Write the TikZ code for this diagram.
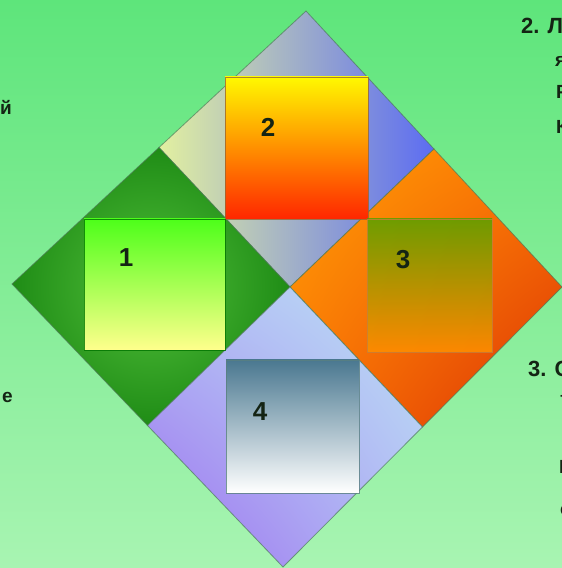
\documentclass[tikz,border=0pt]{standalone}
\usepackage{fontspec}
\setmainfont{Liberation Sans}
\usetikzlibrary{calc,shadings}
\definecolor{Ink}{HTML}{142414}
\definecolor{BgTop}{HTML}{5EE57B}
\definecolor{BgBot}{HTML}{A8F4B2}
\definecolor{Rim}{HTML}{4E7A58}
\definecolor{GreenLite}{HTML}{52C03A}
\definecolor{GreenDark}{HTML}{1F8C16}
\definecolor{PaleLeft}{HTML}{E2F0A0}
\definecolor{GreyMid}{HTML}{AEBCD2}
\definecolor{BlueRight}{HTML}{5C6CF2}
\definecolor{OrangeA}{HTML}{FFA004}
\definecolor{OrangeB}{HTML}{FB7406}
\definecolor{RedC}{HTML}{DA3004}
\definecolor{Violet}{HTML}{9C6CF0}
\definecolor{Lilac}{HTML}{B2BCF4}
\definecolor{SkyPale}{HTML}{BCE0F4}
\definecolor{SteelTop}{HTML}{4A7890}
\definecolor{SteelMid}{HTML}{AAB6BE}
\tikzset{
  rim/.style={draw=Rim,draw opacity=.7,line width=.8pt},
  greenpart/.style={rim,inner color=GreenLite,outer color=GreenDark},
  toppart/.style={rim,left color=PaleLeft,middle color=GreyMid,right color=BlueRight},
  orangepart/.style={rim,upper left=OrangeA,upper right=OrangeB,lower left=OrangeB,lower right=RedC},
  bottompart/.style={rim,upper left=Lilac,upper right=SkyPale,lower left=Violet,lower right=Lilac},
  frame/.style={draw opacity=.8,line width=.9pt},
  sqone/.style={frame,draw=green!45!black,top color=green!70!lime!90!white,middle color=yellow!70!lime!75!white,bottom color=yellow!45!white},
  sqtwo/.style={frame,draw=brown!80!black,top color=yellow!95!orange,middle color=orange!85!yellow,bottom color=red!70!orange},
  sqthree/.style={frame,draw=brown!90!orange,top color=olive!75!green,middle color=orange!70!olive,bottom color=orange!90!yellow},
  sqfour/.style={frame,draw=gray!70!teal,top color=SteelTop,middle color=SteelMid,bottom color=white},
  num/.style={font=\fontsize{26}{28}\selectfont\bfseries,text=Ink,inner sep=0pt},
  head/.style={font=\fontsize{22}{24}\selectfont\bfseries,text=Ink,inner sep=0pt,anchor=west},
  txt/.style={font=\fontsize{19}{21}\selectfont\bfseries,text=Ink,inner sep=0pt,anchor=west},
  txtend/.style={txt,anchor=east}
}
\begin{document}
\begin{tikzpicture}[x=1pt,y=1pt]
  \useasboundingbox (0,0) rectangle (562,568);
  \clip (0,0) rectangle (562,568);
  \shade[top color=BgTop,bottom color=BgBot] (0,0) rectangle (562,568);

  % outer corners and the middle
  \coordinate (T) at (306,557);
  \coordinate (L) at (12,284);
  \coordinate (R) at (562,281);
  \coordinate (B) at (283,1);
  \coordinate (C) at (290,281);
  \coordinate (TL) at ($(T)!.5!(L)$);
  \coordinate (TR) at ($(T)!.5!(R)$);
  \coordinate (LB) at ($(L)!.5!(B)$);
  \coordinate (RB) at ($(R)!.5!(B)$);

  % four small diamonds
  \shade[toppart] (TL)--(T)--(TR)--(C)--cycle;
  \shade[greenpart] (L)--(TL)--(C)--(LB)--cycle;
  \shade[orangepart] (C)--(TR)--(R)--(RB)--cycle;
  \shade[bottompart] (LB)--(C)--(RB)--(B)--cycle;

  % squares
  \shade[sqtwo] (225,349) rectangle (368,491);
  \shade[sqone] (84,218) rectangle (225,349);
  \shade[sqthree,fill opacity=.9] (367,216) rectangle (492,349);
  \shade[sqfour] (226,75) rectangle (359,208);

  \node[num] (n1) at (126,310) {1};
  \node[num] (n2) at (268,441) {2};
  \node[num] (n3) at (403,308) {3};
  \node[num] (n4) at (260,156) {4};

  % cut text at the edges
  \node[txtend] (wl1) at (12,461) {й};
  \node[txtend] (wl2) at (13,171) {е};
  \node[head] (h2) at (521,542) {2. Л};
  \node[txt] (r1) at (555,507) {я};
  \node[txt] (r2) at (556,476) {Р};
  \node[txt] (r3) at (556,441) {К};
  \node[head] (h3) at (528,199) {3. С};
  \node[txt] (s1) at (560,168) {т};
  \node[txt] (s2) at (559,101) {Р};
  \node[txt] (s3) at (560,58) {с};
\end{tikzpicture}
\end{document}
